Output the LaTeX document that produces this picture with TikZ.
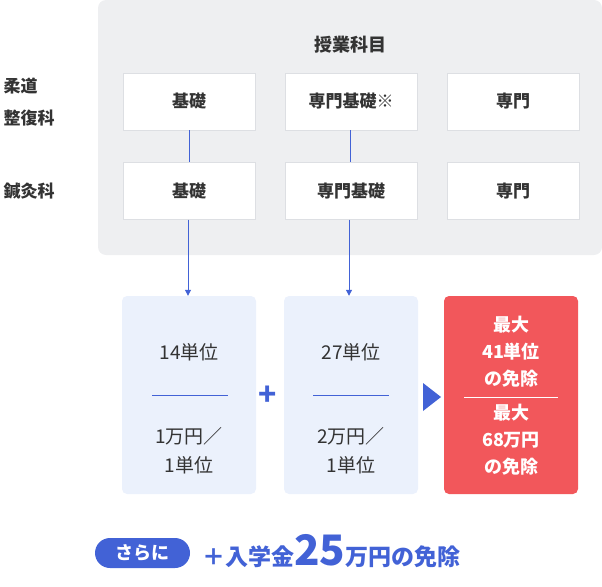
\documentclass[tikz,border=0pt]{standalone}
\usepackage{fontspec}
\setmainfont{Noto Sans CJK JP}
\usetikzlibrary{arrows.meta}
\definecolor{txt}{HTML}{333333}
\definecolor{panel}{HTML}{EEEFF1}
\definecolor{bord}{HTML}{DDDFE3}
\definecolor{blu}{HTML}{4262D6}
\definecolor{tint}{HTML}{EBF1FC}
\definecolor{redb}{HTML}{F2575B}
\begin{document}
\begin{tikzpicture}[x=1pt,y=-1pt,
  lbl/.style={font=\fontsize{17}{20}\selectfont\bfseries, text=txt},
  wbox/.style={draw=bord, fill=white, minimum width=132pt, minimum height=57pt, lbl},
  tbox/.style={fill=tint, rounded corners=5pt, minimum width=134pt, minimum height=198pt},
  big/.style={font=\fontsize{19}{29}\selectfont, text=txt, align=center},
  rtx/.style={align=center, text=white, font=\fontsize{18}{27}\selectfont\bfseries},
  link/.style={blu, line width=1pt},
  arr/.style={link, -{Triangle[length=6pt,width=6pt]}}]
\useasboundingbox (0,0) rectangle (602,586);
\fill[panel, rounded corners=8pt] (98,0) rectangle (602,255);
\node[lbl, font=\fontsize{18}{20}\selectfont\bfseries] (head) at (350,45) {授業科目};
\node[lbl, anchor=west, align=left, font=\fontsize{17}{32}\selectfont\bfseries] (l1) at (0,102) {柔道\\整復科};
\node[lbl, anchor=west] (l2) at (0,191) {鍼灸科};
\node[wbox] (a1) at (189,101.5) {基礎};
\node[wbox] (b1) at (351,101.5) {専門基礎※};
\node[wbox] (c1) at (513,101.5) {専門};
\node[wbox] (a2) at (189,191) {基礎};
\node[wbox] (b2) at (351,191) {専門基礎};
\node[wbox] (c2) at (513,191) {専門};
\draw[link] (a1.south) -- (a2.north);
\draw[link] ([xshift=-1pt]b1.south) -- ([xshift=-1pt]b2.north);
\node[tbox] (t1) at (189,395) {};
\node[tbox] (t2) at (351,395) {};
\node[tbox, fill=redb] (r) at (511,395) {};
\draw[arr] ([xshift=-1pt]a2.south) -- ([xshift=-1pt]t1.north);
\draw[arr] ([xshift=-2pt]b2.south) -- ([xshift=-2pt]t2.north);
\node[big] (n1) at (189,352) {14単位};
\node[big] (m1) at (189,451) {1万円／\\1単位};
\draw[link] (152,395) -- (228,395);
\node[big] (n2) at (351,352) {27単位};
\node[big] (m2) at (351,451) {2万円／\\1単位};
\draw[link] (313,395) -- (389,395);
\node[text=blu, font=\fontsize{30}{30}\selectfont\bfseries] (plus) at (268,396) {+};
\fill[blu] (423,383) -- (441,397) -- (423,411) -- cycle;
\node[rtx] (r1) at (511,352) {最大\\41単位\\の免除};
\draw[white, line width=1pt] (464,397) -- (558,397);
\node[rtx] (r2) at (511,440) {最大\\68万円\\の免除};
\node[fill=blu, rounded corners=15pt, minimum width=95pt, minimum height=30pt, text=white, font=\fontsize{18}{20}\selectfont\bfseries] (pill) at (142.5,553) {さらに};
\node[anchor=base west, text=blu, font=\fontsize{23}{24}\selectfont\bfseries, inner sep=0pt] (bot) at (202,565)
 {＋入学金{\fontsize{42}{42}\selectfont 25}万円の免除};
\end{tikzpicture}
\end{document}
